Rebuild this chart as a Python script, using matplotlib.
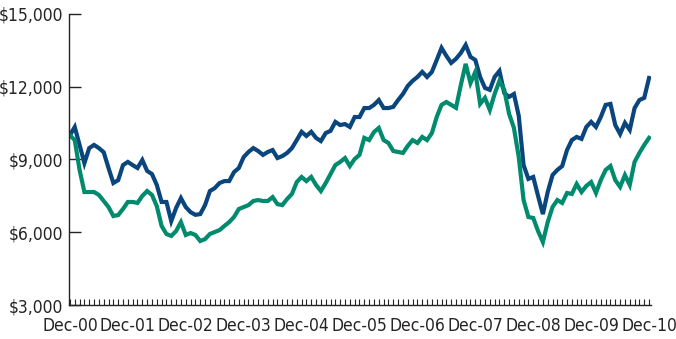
import numpy as np
import matplotlib
matplotlib.use("Agg")
from matplotlib import pyplot as plt
from matplotlib import font_manager

# growth of $10,000, month-end values Dec-00 .. Dec-10
fund = [10000, 10340, 9600, 8850, 9470, 9600, 9470, 9300, 8650, 8030,
        8150, 8770, 8900, 8770, 8650, 8980, 8530, 8400, 7950, 7250,
        7250, 6460, 7000, 7410, 7040, 6830, 6720, 6750, 7120, 7700,
        7820, 8030, 8110, 8110, 8480, 8650, 9100, 9310, 9470, 9350,
        9190, 9310, 9390, 9060, 9140, 9270, 9470, 9800, 10140, 9970,
        10140, 9890, 9760, 10090, 10180, 10550, 10420, 10460, 10340, 10750,
        10750, 11120, 11120, 11250, 11450, 11120, 11120, 11170, 11450, 11700,
        12030, 12240, 12400, 12610, 12400, 12610, 13100, 13600, 13270, 12980,
        13150, 13390, 13720, 13230, 13100, 12400, 11950, 11870, 12400, 12650,
        11740, 11580, 11700, 10800, 8770, 8200, 8280, 7500, 6750, 7660,
        8360, 8570, 8730, 9390, 9800, 9930, 9850, 10340, 10550, 10340,
        10750, 11250, 11290, 10420, 10050, 10510, 10220, 11120, 11450, 11540,
        12360]

index = [10000, 9800, 8570, 7660, 7660, 7660, 7540, 7290, 7040, 6670,
         6710, 6960, 7250, 7250, 7210, 7500, 7700, 7540, 7080, 6260,
         5930, 5850, 6050, 6420, 5890, 5970, 5890, 5640, 5720, 5930,
         6010, 6090, 6260, 6420, 6630, 6960, 7040, 7120, 7290, 7330,
         7290, 7290, 7450, 7160, 7120, 7370, 7580, 8070, 8280, 8110,
         8280, 7950, 7700, 8030, 8400, 8770, 8900, 9060, 8730, 9020,
         9190, 9890, 9800, 10130, 10300, 9800, 9680, 9350, 9310, 9270,
         9560, 9800, 9680, 9930, 9800, 10090, 10750, 11250, 11370, 11250,
         11130, 12070, 12940, 12150, 12610, 11290, 11540, 11040, 11700, 12240,
         11870, 10880, 10300, 9100, 7330, 6630, 6590, 6050, 5600, 6420,
         7040, 7330, 7210, 7620, 7580, 7990, 7660, 7910, 8070, 7620,
         8150, 8570, 8730, 8150, 7870, 8360, 7950, 8900, 9270, 9600,
         9890]

year_labels = ["Dec-00", "Dec-01", "Dec-02", "Dec-03", "Dec-04", "Dec-05",
               "Dec-06", "Dec-07", "Dec-08", "Dec-09", "Dec-10"]
y_ticks = [3000, 6000, 9000, 12000, 15000]

text_col = "#262324"
# narrow face for the tick labels
label_font = font_manager.FontProperties(family="DejaVu Sans",
                                         stretch="condensed", size=12.5)

months = np.arange(len(fund))

fig = plt.figure(figsize=(6.76, 3.39), dpi=100)
ax = fig.add_axes([0.102, 0.100, 0.861, 0.859])

ax.plot(months, fund, color="#0a467d", lw=3.0, solid_joinstyle="miter")
ax.plot(months, index, color="#008a6e", lw=3.0, solid_joinstyle="miter")

ax.set_xlim(-0.2, 120.4)
ax.set_ylim(3000, 15000)

ax.set_yticks(y_ticks)
ax.set_yticklabels(["${:,}".format(v) for v in y_ticks])
ax.set_xticks(np.arange(0, 121, 12))
ax.set_xticklabels(year_labels)
ax.set_xticks(months, minor=True)

ax.tick_params(axis="y", direction="in", length=8.5, width=1.0, pad=4,
               colors=text_col)
ax.tick_params(axis="x", which="both", direction="in", length=4.0, width=0.8,
               pad=8.5, colors=text_col)
for lbl in ax.get_xticklabels() + ax.get_yticklabels():
    lbl.set_fontproperties(label_font)

for side in ["top", "right"]:
    ax.spines[side].set_visible(False)
for side in ["left", "bottom"]:
    ax.spines[side].set_color(text_col)
    ax.spines[side].set_linewidth(1.0)

fig.savefig("out.png", dpi=100)
